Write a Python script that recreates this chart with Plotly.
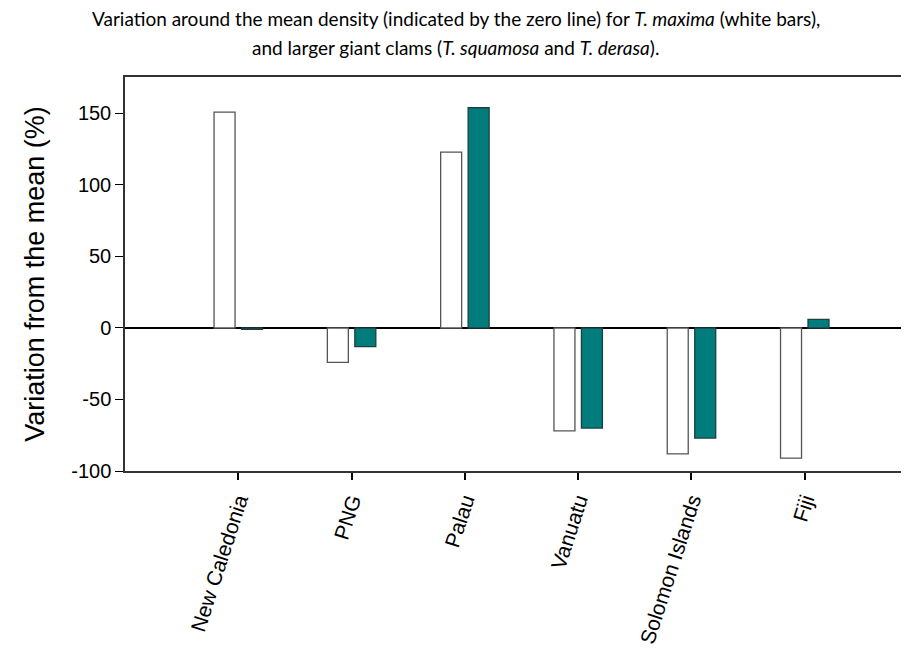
import plotly.graph_objects as go

countries = ["New Caledonia", "PNG", "Palau", "Vanuatu", "Solomon Islands", "Fiji"]
t_maxima = [151, -24, 123, -72, -88, -91]
larger_clams = [-1, -13, 154, -70, -77, 6]
y_ticks = [-100, -50, 0, 50, 100, 150]

# page has a small body margin; figure sized so plot area lands at page px ~123..909, 75..470
W, H = 901, 652
L, T, B = 117, 69, 189
PW, PH = W - L, H - T - B

fig = go.Figure()
fig.add_trace(go.Bar(
    x=list(range(len(countries))), y=t_maxima, name="T. maxima",
    marker=dict(color="white", line=dict(color="#555555", width=1.3)),
))
fig.add_trace(go.Bar(
    x=list(range(len(countries))), y=larger_clams, name="Larger giant clams",
    marker=dict(color="#007c7c", line=dict(color="#1f3f3f", width=1.3)),
))

fig.update_layout(
    width=W, height=H,
    margin=dict(l=L, r=0, t=T, b=B, pad=0),
    paper_bgcolor="white", plot_bgcolor="white",
    showlegend=False,
    barmode="group", bargap=0.515, bargroupgap=0.236,
    font=dict(family="Liberation Sans, Arial, sans-serif", color="black"),
)
fig.update_xaxes(
    range=[-1, 5.92],
    tickmode="array", tickvals=list(range(len(countries))), ticktext=countries,
    tickangle=-72, tickfont=dict(size=21, family="Liberation Sans, Arial"),
    ticks="outside", ticklen=7, tickwidth=1.5, tickcolor="black",
    showline=True, linecolor="#333333", linewidth=1.8, mirror=True,
    showgrid=False, zeroline=False,
)
fig.update_yaxes(
    range=[-100, 175.5],
    tickmode="array", tickvals=y_ticks, ticktext=[str(v) for v in y_ticks],
    tickfont=dict(size=20), ticks="outside", ticklen=8, tickwidth=1.3, tickcolor="black",
    showline=True, linecolor="#333333", linewidth=1.5,
    showgrid=False, zeroline=True, zerolinecolor="black", zerolinewidth=1.5,
    title=dict(text="Variation from the mean (%)", font=dict(size=27), standoff=19),
)
cx = (454.5 - 7 - L) / PW
fig.add_annotation(
    text="Variation around the mean density (indicated by the zero line) for <i>T. maxima</i> (white bars),",
    xref="paper", yref="paper", x=cx, y=(PH + T - (18 - 7)) / PH,
    xanchor="center", yanchor="middle", showarrow=False,
    font=dict(family="Lato, Carlito, sans-serif", size=19, color="black"),
)
fig.add_annotation(
    text="and larger giant clams (<i>T. squamosa</i> and <i>T. derasa</i>).",
    xref="paper", yref="paper", x=cx, y=(PH + T - (46 - 7)) / PH,
    xanchor="center", yanchor="middle", showarrow=False,
    font=dict(family="Lato, Carlito, sans-serif", size=19, color="black"),
)

fig.write_html("out.html")
